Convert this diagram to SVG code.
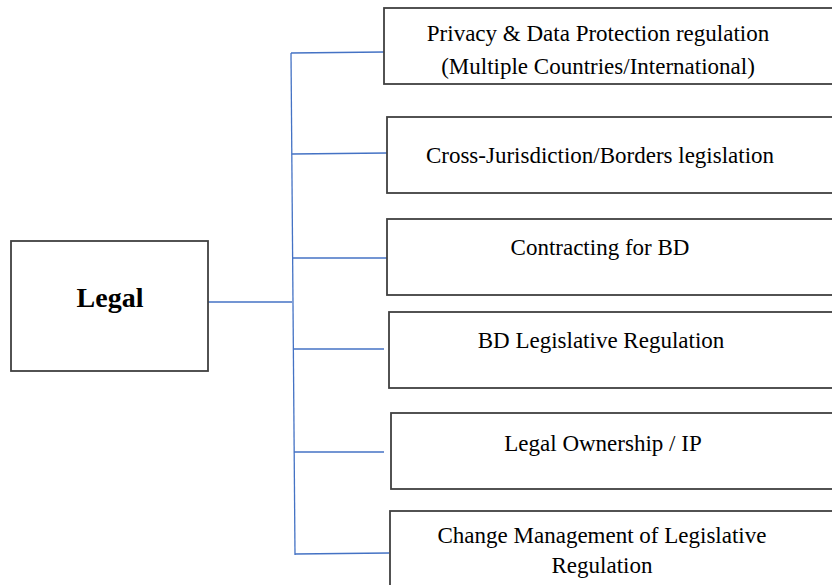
<svg xmlns="http://www.w3.org/2000/svg" width="832" height="585" viewBox="0 0 832 585">
<style>
.box{fill:#fff;stroke:#404040;stroke-width:1.8}
.t{font-family:"Liberation Serif","Times New Roman",serif;font-size:23px;fill:#000;text-anchor:middle}
.b{font-weight:bold;font-size:28px}
.c{stroke:#4472C4;stroke-width:1.3;fill:none}
</style>
<rect width="832" height="585" fill="#fff"/>
<g id="connectors">
<line class="c" x1="208" y1="302" x2="292" y2="302"/>
<line class="c" x1="291" y1="53" x2="295" y2="555"/>
<line class="c" x1="291" y1="53" x2="384" y2="52"/>
<line class="c" x1="292" y1="154" x2="387" y2="153"/>
<line class="c" x1="292" y1="258" x2="387" y2="258"/>
<line class="c" x1="293" y1="349" x2="384" y2="349"/>
<line class="c" x1="294" y1="452" x2="384" y2="452"/>
<line class="c" x1="295" y1="554" x2="389" y2="553"/>
</g>
<g id="legal">
<rect class="box" x="11" y="241" width="197" height="130"/>
<text class="t b" x="110" y="307">Legal</text>
</g>
<g id="privacy">
<rect class="box" x="384" y="8" width="470" height="76"/>
<text class="t" x="598" y="41">Privacy &amp; Data Protection regulation</text>
<text class="t" x="598" y="74">(Multiple Countries/International)</text>
</g>
<g id="cross">
<rect class="box" x="387" y="117" width="470" height="76"/>
<text class="t" x="600" y="163">Cross-Jurisdiction/Borders legislation</text>
</g>
<g id="contracting">
<rect class="box" x="387" y="219" width="470" height="76"/>
<text class="t" x="600" y="255">Contracting for BD</text>
</g>
<g id="bdlegislative">
<rect class="box" x="389" y="312" width="470" height="76"/>
<text class="t" x="601" y="348">BD Legislative Regulation</text>
</g>
<g id="ownership">
<rect class="box" x="391" y="413" width="470" height="76"/>
<text class="t" x="603" y="451">Legal Ownership / IP</text>
</g>
<g id="change">
<rect class="box" x="390" y="511" width="470" height="90"/>
<text class="t" x="602" y="543">Change Management of Legislative</text>
<text class="t" x="602" y="573">Regulation</text>
</g>
</svg>
